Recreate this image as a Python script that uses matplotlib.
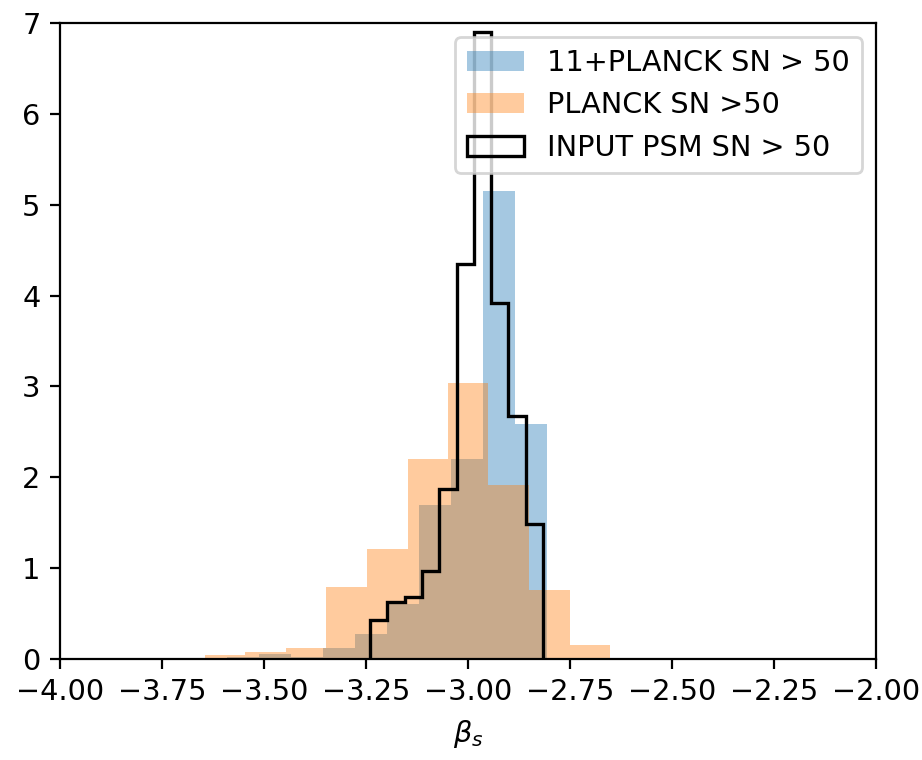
import numpy as np
import matplotlib
matplotlib.use('Agg')
import matplotlib.pyplot as plt

# bin edges and normalised counts

edges_combined = [-3.591, -3.512, -3.434, -3.355, -3.277, -3.199, -3.120, -3.042, -2.963, -2.885, -2.806]
dens_combined = [0.02, 0.05, 0.02, 0.12, 0.27, 0.61, 1.69, 2.20, 5.15, 2.59]

edges_planck = [-3.645, -3.546, -3.446, -3.347, -3.248, -3.148, -3.049, -2.950, -2.850, -2.751, -2.652]
dens_planck = [0.04, 0.08, 0.12, 0.79, 1.21, 2.20, 3.04, 1.92, 0.76, 0.15]

edges_input = [-3.240, -3.198, -3.155, -3.113, -3.070, -3.028, -2.986, -2.943, -2.901, -2.858, -2.816]
dens_input = [0.43, 0.63, 0.68, 0.97, 1.87, 4.35, 6.90, 3.92, 2.67, 1.49]

labels = ['11+PLANCK SN > 50', 'PLANCK SN >50', 'INPUT PSM SN > 50']

plt.rcParams['font.size'] = 10.35


def centres(e):
    e = np.asarray(e)
    return 0.5 * (e[:-1] + e[1:])


fig = plt.figure(figsize=(4.61, 3.8), dpi=200)
ax = fig.add_axes([0.0651, 0.1329, 0.885, 0.8368])

ax.hist(centres(edges_combined), bins=edges_combined, weights=dens_combined,
        alpha=0.4, label=labels[0])
ax.hist(centres(edges_planck), bins=edges_planck, weights=dens_planck,
        alpha=0.4, label=labels[1])
ax.hist(centres(edges_input), bins=edges_input, weights=dens_input,
        histtype='step', color='k', lw=1.2, label=labels[2])

ax.set_xlim(-4, -2)
ax.set_ylim(0, 7)
ax.set_xticks([-4.0, -3.75, -3.5, -3.25, -3.0, -2.75, -2.5, -2.25, -2.0])
ax.set_xlabel(r'$\beta_s$')
ax.legend(loc='upper right')

fig.savefig('out.png', dpi=200)
